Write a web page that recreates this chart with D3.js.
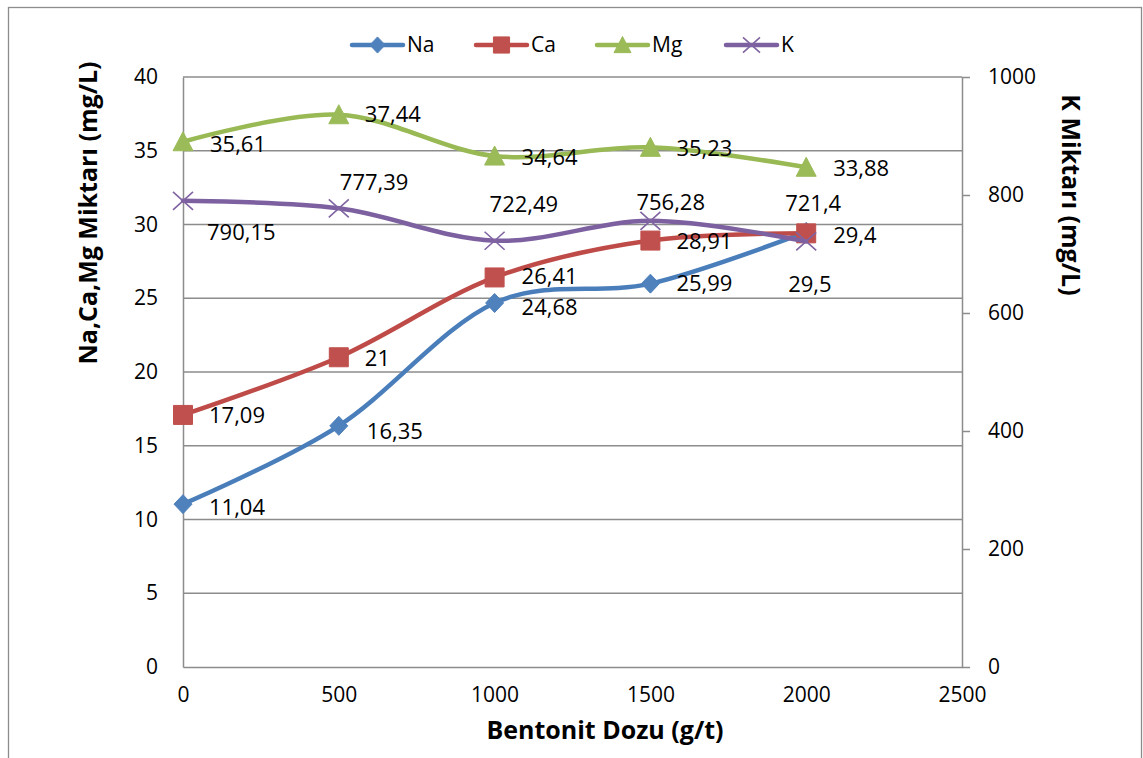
<!DOCTYPE html>
<html>
<head>
<meta charset="utf-8">
<script src="https://cdn.jsdelivr.net/npm/d3@7"></script>
<style>
  body { margin: 0; background: #fff; }
  svg text { font-family: "Open Sans", "Liberation Sans", sans-serif; fill: #000; }
</style>
</head>
<body>
<div id="chart"></div>
<script>
// values
var doses = [0, 500, 1000, 1500, 2000];
var naVals = [11.04, 16.35, 24.68, 25.99, 29.5];
var caVals = [17.09, 21, 26.41, 28.91, 29.4];
var mgVals = [35.61, 37.44, 34.64, 35.23, 33.88];
var kVals = [790.15, 777.39, 722.49, 756.28, 721.4];
var xTicks = [0, 500, 1000, 1500, 2000, 2500];
var leftTicks = [0, 5, 10, 15, 20, 25, 30, 35, 40];
var rightTicks = [0, 200, 400, 600, 800, 1000];
var seriesNames = ["Na", "Ca", "Mg", "K"];

// label placement (dx, dy from the point)
var labelOffsets = {
    Na: [[26, 3], [28, 5], [27, 4], [26, 0], [-18, 52]],
    Ca: [[26, 0], [26, 1], [27, -1], [26, 1], [27, 2]],
    Mg: [[27, 3], [26, 0], [27, 1], [26, 1], [27, 1]],
    K: [[24, 31], [1, -26], [-5, -36], [-14, -18], [-21, -38]]
};

var W = 1143, H = 758;
var plot = {left: 183, right: 962, top: 77, bottom: 667};

var svg = d3.select("#chart").append("svg")
    .attr("width", W)
    .attr("height", H);

// outer chart border
svg.append("rect")
    .attr("x", 8.5).attr("y", 7.5)
    .attr("width", 1133).attr("height", 770)
    .attr("fill", "#fff")
    .attr("stroke", "#8c8c8c")
    .attr("stroke-width", 1.3);

var x = d3.scaleLinear().domain([0, 2500]).range([plot.left, plot.right]);
var yL = d3.scaleLinear().domain([0, 40]).range([plot.bottom, plot.top]);
var yR = d3.scaleLinear().domain([0, 1000]).range([plot.bottom, plot.top]);

// gridlines
svg.append("g").selectAll("line").data(leftTicks.filter(function(d){ return d > 0; }))
    .enter().append("line")
    .attr("x1", plot.left).attr("x2", plot.right)
    .attr("y1", function(d){ return yL(d); })
    .attr("y2", function(d){ return yL(d); })
    .attr("stroke", "#8c8c8c")
    .attr("stroke-width", 1.3);

// left axis
var leftAxis = svg.append("g")
    .attr("transform", "translate(" + plot.left + ",0)")
    .call(d3.axisLeft(yL).tickValues(leftTicks).tickFormat(d3.format("d")).tickSize(0).tickPadding(25));
leftAxis.select(".domain").attr("stroke", "#8c8c8c").attr("stroke-width", 1.5);
leftAxis.selectAll("text").attr("font-size", "21px");

// right axis
var rightAxis = svg.append("g")
    .attr("transform", "translate(" + plot.right + ",0)")
    .call(d3.axisRight(yR).tickValues(rightTicks).tickFormat(d3.format("d")).tickSize(8).tickSizeOuter(0).tickPadding(18));
rightAxis.select(".domain").attr("stroke", "#8c8c8c").attr("stroke-width", 1.5);
rightAxis.selectAll(".tick line").attr("stroke", "#8c8c8c").attr("stroke-width", 1.5);
rightAxis.selectAll("text").attr("font-size", "21px");

// bottom axis
var bottomAxis = svg.append("g")
    .attr("transform", "translate(0," + plot.bottom + ")")
    .call(d3.axisBottom(x).tickValues(xTicks).tickFormat(d3.format("d")).tickSize(0).tickPadding(20));
bottomAxis.select(".domain").attr("stroke", "#8c8c8c").attr("stroke-width", 1.5);
bottomAxis.selectAll("text").attr("font-size", "21px");

// axis titles
svg.append("text")
    .attr("transform", "translate(97,213) rotate(-90)")
    .attr("text-anchor", "middle")
    .attr("font-size", "25px")
    .attr("font-weight", "bold")
    .text("Na,Ca,Mg Miktarı (mg/L)");

svg.append("text")
    .attr("transform", "translate(1062,195) rotate(90)")
    .attr("text-anchor", "middle")
    .attr("font-size", "25px")
    .attr("font-weight", "bold")
    .text("K Miktarı (mg/L)");

svg.append("text")
    .attr("x", 605).attr("y", 739)
    .attr("text-anchor", "middle")
    .attr("font-size", "25px")
    .attr("font-weight", "bold")
    .text("Bentonit Dozu (g/t)");

// series
var series = [
    {name: "Na", vals: naVals, y: yL, line: "#4a7ebb", fill: "#4f81bd", marker: "diamond"},
    {name: "Ca", vals: caVals, y: yL, line: "#be4b48", fill: "#c0504d", marker: "square"},
    {name: "Mg", vals: mgVals, y: yL, line: "#98b954", fill: "#9bbb59", marker: "triangle"},
    {name: "K", vals: kVals, y: yR, line: "#7d60a0", fill: "#8064a2", marker: "cross"}
];

function markerPath(type, s) {
    if (type == "diamond") return "M0," + (-9.5*s) + "L" + (9*s) + ",0L0," + (9.5*s) + "L" + (-9*s) + ",0Z";
    if (type == "square") return "M" + (-9.5*s) + "," + (-9.5*s) + "h" + (19*s) + "v" + (19*s) + "h" + (-19*s) + "Z";
    if (type == "triangle") return "M0," + (-10*s) + "L" + (10*s) + "," + (9*s) + "L" + (-10*s) + "," + (9*s) + "Z";
    return "M" + (-10*s) + "," + (-9*s) + "L" + (10*s) + "," + (9*s) + "M" + (-10*s) + "," + (9*s) + "L" + (10*s) + "," + (-9*s);
}

function drawMarker(g, d, s, px, py) {
    var m = g.append("path")
        .attr("d", markerPath(d.marker, s))
        .attr("transform", "translate(" + px + "," + py + ")");
    if (d.marker == "cross") {
        m.attr("fill", "none").attr("stroke", d.fill).attr("stroke-width", 1.6);
    } else {
        m.attr("fill", d.fill).attr("stroke", d.fill).attr("stroke-width", 1);
    }
}

series.forEach(function(d) {
    var g = svg.append("g");
    var line = d3.line()
        .x(function(v, i){ return x(doses[i]); })
        .y(function(v){ return d.y(v); })
        .curve(d3.curveCardinal.tension(0));
    g.append("path")
        .attr("d", line(d.vals))
        .attr("fill", "none")
        .attr("stroke", d.line)
        .attr("stroke-width", 4.5)
        .attr("stroke-linecap", "round");
    d.vals.forEach(function(v, i) {
        drawMarker(g, d, 1, x(doses[i]), d.y(v));
    });
});

// data labels on top
series.forEach(function(d) {
    svg.append("g").selectAll("text").data(d.vals)
        .enter().append("text")
        .attr("x", function(v, i){ return x(doses[i]) + labelOffsets[d.name][i][0]; })
        .attr("y", function(v, i){ return d.y(v) + labelOffsets[d.name][i][1]; })
        .attr("dy", "0.35em")
        .attr("font-size", "22px")
        .text(function(v){ return String(v).replace(".", ","); });
});

// legend
var legendX = [352, 476, 597, 726];
var legend = svg.append("g");
series.forEach(function(d, i) {
    var lx = legendX[i];
    legend.append("line")
        .attr("x1", lx).attr("x2", lx + 51)
        .attr("y1", 45).attr("y2", 45)
        .attr("stroke", d.line)
        .attr("stroke-width", 4.5)
        .attr("stroke-linecap", "round");
    drawMarker(legend, d, 0.85, lx + 25.5, 45);
    legend.append("text")
        .attr("x", lx + 55).attr("y", 45)
        .attr("dy", "0.35em")
        .attr("font-size", "21px")
        .text(seriesNames[i]);
});
</script>
</body>
</html>
